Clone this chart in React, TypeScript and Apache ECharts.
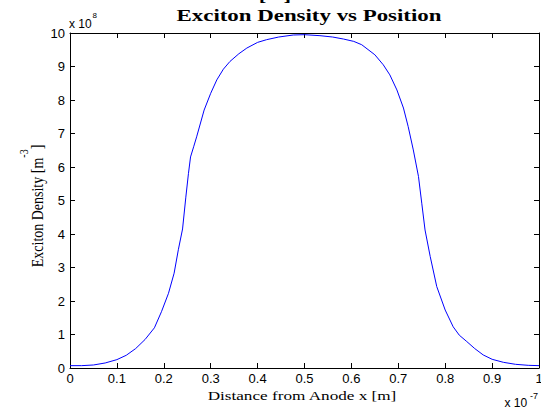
import React, { useEffect, useRef } from "react";
import * as echarts from "echarts";

// Position (x 10^-7 m)
const xValues = [
  0.0, 0.025, 0.05, 0.075, 0.1, 0.12, 0.14, 0.16, 0.18, 0.195, 0.21, 0.222, 0.231, 0.24, 0.247,
  0.2525, 0.257, 0.264, 0.27, 0.286, 0.3, 0.313, 0.327, 0.341, 0.36, 0.377, 0.4, 0.419, 0.445, 0.476, 0.5,
  0.533, 0.56, 0.583, 0.605, 0.622, 0.65, 0.668, 0.682, 0.697, 0.711, 0.721, 0.732, 0.743, 0.75,
  0.757, 0.768, 0.782, 0.8, 0.817, 0.83, 0.846, 0.863, 0.881, 0.9, 0.924, 0.95, 0.977, 1.0,
];
// Exciton density (x 10^8 m^-3)
const yValues = [
  0.07, 0.07, 0.09, 0.15, 0.25, 0.38, 0.58, 0.85, 1.2, 1.68, 2.23, 2.83, 3.53, 4.15, 5.1,
  5.8, 6.3, 6.62, 6.9, 7.7, 8.2, 8.6, 8.92, 9.15, 9.38, 9.55, 9.72, 9.8, 9.88, 9.94, 9.95,
  9.92, 9.88, 9.82, 9.75, 9.65, 9.35, 9.05, 8.75, 8.3, 7.76, 7.21, 6.51, 5.72, 4.92,
  4.12, 3.33, 2.43, 1.73, 1.23, 0.98, 0.79, 0.58, 0.39, 0.26, 0.17, 0.11, 0.08, 0.07,
];

const TITLE = "Exciton Density vs Position";
const TITLE_ABOVE = "[   ]";
const X_NAME = "Distance from Anode x [m]";
const Y_NAME_MAIN = "Exciton Density [m";
const Y_NAME_SUP = "-3";
const Y_NAME_END = "]";
const MULT = "x 10";
const X_EXP = "-7";
const Y_EXP = "8";

export default function App() {
  const ref = useRef<HTMLDivElement>(null);

  useEffect(() => {
    if (!ref.current) return;
    const chart = echarts.init(ref.current, null, { renderer: "svg" });
    const serif = "'Liberation Serif', 'Times New Roman', serif";
    const sans = "'Liberation Sans', Arial, sans-serif";

    const line = { show: true, onZero: false, lineStyle: { color: "#000", width: 1 } };
    const tick = { show: true, inside: true, length: 5, lineStyle: { color: "#000", width: 1 } };

    chart.setOption({
      animation: false,
      backgroundColor: "#fff",
      grid: { left: 70, right: 2, top: 33, bottom: 39, containLabel: false, outerBoundsMode: "none" },
      xAxis: [
        {
          type: "value", min: 0, max: 1, interval: 0.1, position: "bottom",
          axisLine: line, axisTick: tick,
          axisLabel: { color: "#000", fontSize: 13, fontFamily: sans, margin: 4, showMaxLabel: true, showMinLabel: true },
          splitLine: { show: false },
        },
        {
          type: "value", min: 0, max: 1, interval: 0.1, position: "top",
          axisLine: line, axisTick: tick, axisLabel: { show: false }, splitLine: { show: false },
        },
      ],
      yAxis: [
        {
          type: "value", min: 0, max: 10, interval: 1, position: "left",
          axisLine: line, axisTick: tick,
          axisLabel: { color: "#000", fontSize: 13, fontFamily: sans, margin: 5, showMaxLabel: true, showMinLabel: true },
          splitLine: { show: false },
        },
        {
          type: "value", min: 0, max: 10, interval: 1, position: "right",
          axisLine: line, axisTick: tick, axisLabel: { show: false }, splitLine: { show: false },
        },
      ],
      series: [
        {
          type: "line",
          xAxisIndex: 0,
          yAxisIndex: 0,
          data: xValues.map((x, i) => [x, yValues[i]]),
          showSymbol: false,
          symbol: "none",
          lineStyle: { color: "#0000ff", width: 1 },
          silent: true,
        },
      ],
      graphic: [
        {
          type: "text", x: 275, y: -5, scaleX: 1.43,
          style: {
            text: TITLE_ABOVE, x: 0, y: 0, fontSize: 16, fontWeight: "bold", fontFamily: serif,
            fill: "#000", align: "center", textAlign: "center", verticalAlign: "middle", textVerticalAlign: "middle",
          },
        },
        {
          type: "text", x: 309, y: 15, scaleX: 1.43,
          style: {
            text: TITLE, x: 0, y: 0, fontSize: 16, fontWeight: "bold", fontFamily: serif,
            fill: "#000", align: "center", textAlign: "center", verticalAlign: "middle", textVerticalAlign: "middle",
          },
        },
        {
          type: "text", x: 302, y: 395, scaleX: 1.32,
          style: {
            text: X_NAME, x: 0, y: 0, fontSize: 13, fontFamily: serif,
            fill: "#000", align: "center", textAlign: "center", verticalAlign: "middle", textVerticalAlign: "middle",
          },
        },
        {
          type: "text", x: 37, y: 206, rotation: Math.PI / 2, scaleY: 1.25,
          style: {
            text: `{a|${Y_NAME_MAIN}}{s|${Y_NAME_SUP}}{a|${Y_NAME_END}}`,
            x: 0, y: 0,
            rich: {
              a: { fontSize: 14, fontFamily: serif, lineHeight: 32, fill: "#000", color: "#000" },
              s: { fontSize: 10, fontFamily: serif, verticalAlign: "top", fill: "#000", color: "#000" },
            },
            fill: "#000", align: "center", textAlign: "center", verticalAlign: "middle", textVerticalAlign: "middle",
          },
        },
        {
          type: "text", x: 69, y: 24,
          style: {
            text: MULT, x: 0, y: 0, fontSize: 12, fontFamily: sans, fill: "#000",
            align: "left", textAlign: "left", verticalAlign: "middle", textVerticalAlign: "middle",
          },
        },
        {
          type: "text", x: 92.5, y: 15,
          style: {
            text: Y_EXP, x: 0, y: 0, fontSize: 8, fontFamily: sans, fill: "#000",
            align: "left", textAlign: "left", verticalAlign: "middle", textVerticalAlign: "middle",
          },
        },
        {
          type: "text", x: 504.5, y: 402.5,
          style: {
            text: MULT, x: 0, y: 0, fontSize: 12, fontFamily: sans, fill: "#000",
            align: "left", textAlign: "left", verticalAlign: "middle", textVerticalAlign: "middle",
          },
        },
        {
          type: "text", x: 530, y: 396,
          style: {
            text: X_EXP, x: 0, y: 0, fontSize: 9, fontFamily: sans, fill: "#000",
            align: "left", textAlign: "left", verticalAlign: "middle", textVerticalAlign: "middle",
          },
        },
      ],
    });

    return () => chart.dispose();
  }, []);

  return (
    <div
      ref={ref}
      style={{ position: "absolute", left: 0, top: 0, width: 541, height: 407, background: "#fff" }}
    />
  );
}
